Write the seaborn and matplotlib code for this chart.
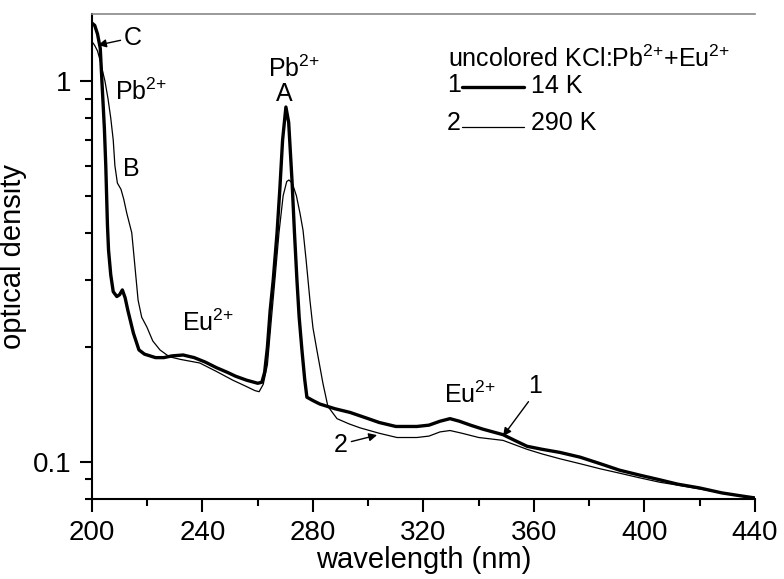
import numpy as np
import pandas as pd
import matplotlib
matplotlib.use("Agg")
import matplotlib.pyplot as plt
import matplotlib.ticker as mticker
from matplotlib.lines import Line2D
import seaborn as sns

# ---- data ----
wl_14K = [200, 201, 202, 203, 203.6, 204.5, 205, 205.6, 206, 206.8, 207.7, 209, 210, 211,
          212, 213, 215, 217, 219, 221, 223, 226, 229, 233, 237, 241, 245, 249, 252, 256,
          260, 261.5, 262.5, 263.5, 264.5, 265.6, 267, 268, 269, 270.2, 271.2, 272.4,
          273.3, 274.2, 275, 276, 277, 277.8, 280, 282.5, 288, 293.4, 300, 304, 310,
          317.6, 322, 326, 329.6, 333, 337, 341.5, 348.8, 353, 357.5, 363, 369.4, 376.7,
          384, 391, 398, 405.6, 412, 420, 428, 435, 440]
od_14K = [1.42, 1.40, 1.33, 1.22, 1.0, 0.75, 0.6, 0.42, 0.36, 0.31, 0.28, 0.272, 0.275, 0.283,
          0.27, 0.25, 0.218, 0.197, 0.192, 0.19, 0.188, 0.188, 0.19, 0.191, 0.188, 0.183,
          0.177, 0.172, 0.168, 0.164, 0.161, 0.162, 0.172, 0.2, 0.25, 0.3, 0.4, 0.52, 0.7,
          0.855, 0.78, 0.55, 0.4, 0.3, 0.24, 0.197, 0.165, 0.148, 0.145, 0.142, 0.138,
          0.135, 0.13, 0.127, 0.124, 0.124, 0.125, 0.128, 0.130, 0.128, 0.125, 0.122,
          0.118, 0.114, 0.110, 0.108, 0.106, 0.103, 0.099, 0.0952, 0.0925, 0.0898,
          0.0875, 0.0855, 0.083, 0.0815, 0.0805]

wl_290K = [200, 201, 202, 203, 204, 204.7, 205.8, 206.8, 207.7, 208.3, 209.2, 210.5, 211.5,
           212.6, 214.4, 215, 216.7, 218, 219.9, 222, 224.6, 228, 232, 239, 245, 251, 255,
           259, 260.5, 262, 263.5, 265, 266.2, 267.7, 269.2, 270.5, 271.3, 272.5, 274,
           275.3, 276.4, 277.5, 278.9, 280, 281.4, 283.6, 285.4, 288.7, 293, 297, 304,
           310.4, 317.6, 322, 326, 329.6, 334, 340, 348.8, 357.5, 363, 369.4, 376.7, 384,
           391, 398, 405.6, 412, 420, 428, 435, 440]
od_290K = [1.27, 1.24, 1.20, 1.13, 1.05, 1.0, 0.9, 0.8, 0.7, 0.6, 0.54, 0.52, 0.49,
           0.45, 0.4, 0.36, 0.266, 0.24, 0.226, 0.208, 0.197, 0.189, 0.186, 0.182, 0.173,
           0.164, 0.159, 0.154, 0.153, 0.16, 0.18, 0.24, 0.30, 0.4, 0.5, 0.545, 0.55, 0.54,
           0.5, 0.45, 0.406, 0.34, 0.266, 0.225, 0.197, 0.161, 0.14, 0.13, 0.126, 0.123,
           0.119, 0.116, 0.116, 0.117, 0.12, 0.121, 0.119, 0.116, 0.114, 0.108, 0.105,
           0.102, 0.099, 0.096, 0.0935, 0.091, 0.0885, 0.087, 0.085, 0.083, 0.0815, 0.0805]

x_ticks = [200, 240, 280, 320, 360, 400, 440]
y_ticks = [0.1, 1]
y_tick_labels = ["0.1", "1"]

# ---- style ----
sns.set_style("ticks")
plt.rcParams["font.family"] = ["Liberation Sans", "DejaVu Sans"]
plt.rcParams["mathtext.default"] = "regular"
plt.rcParams["mathtext.fontset"] = "custom"
plt.rcParams["mathtext.rm"] = "Liberation Sans"
for k in ["text.color", "axes.labelcolor", "xtick.color", "ytick.color"]:
    plt.rcParams[k] = "black"

fig = plt.figure(figsize=(7.84, 5.79), dpi=100)
ax = fig.add_axes([0.1173, 0.1382, 0.9630 - 0.1173, 0.9758 - 0.1382])

df1 = pd.DataFrame({"wl": wl_14K, "od": od_14K})
df2 = pd.DataFrame({"wl": wl_290K, "od": od_290K})
sns.lineplot(data=df2, x="wl", y="od", ax=ax, color="black", lw=0.9, sort=False, estimator=None)
sns.lineplot(data=df1, x="wl", y="od", ax=ax, color="black", lw=2.4, sort=False, estimator=None)

ax.set_yscale("log")
ax.set_xlim(200, 440)
ax.set_ylim(0.08, 1.5)

ax.set_xticks(x_ticks)
ax.xaxis.set_minor_locator(mticker.MultipleLocator(20))
ax.set_yticks(y_ticks)
ax.set_yticklabels(y_tick_labels)
ax.yaxis.set_minor_locator(mticker.LogLocator(base=10, subs=np.arange(2, 10)))
ax.yaxis.set_minor_formatter(mticker.NullFormatter())

ax.tick_params(axis="both", which="major", direction="out", length=9, width=1.5,
               labelsize=20, colors="black", pad=6)
ax.tick_params(axis="both", which="minor", direction="out", length=5, width=1.5)

for s in ["left", "bottom"]:
    ax.spines[s].set_linewidth(1.5)
    ax.spines[s].set_color("black")
ax.spines["right"].set_visible(False)
ax.spines["top"].set_color("#888888")
ax.spines["top"].set_linewidth(1.2)

ax.set_xlabel("wavelength (nm)", fontsize=21, labelpad=0)
ax.set_ylabel("optical density", fontsize=21)
ax.yaxis.set_label_coords(-0.098, 0.5)

# ---- annotations ----
fs = 18
sup = "$^{2{+}}$"
ap = dict(arrowstyle="-|>", color="black", lw=1.0, mutation_scale=12,
          shrinkA=0, shrinkB=0)
ax.annotate("C", xy=(202.2, 1.243), xytext=(214.8, 1.30), fontsize=fs,
            ha="center", va="center", arrowprops=ap)
ax.text(217.8, 0.94, "Pb" + sup, fontsize=fs, ha="center", va="center")
ax.text(214.1, 0.588, "B", fontsize=fs, ha="center", va="center")
ax.text(242.0, 0.232, "Eu" + sup, fontsize=fs, ha="center", va="center")
ax.text(273.0, 1.075, "Pb" + sup, fontsize=fs, ha="center", va="center")
ax.text(269.5, 0.924, "A", fontsize=fs, ha="center", va="center")
ax.text(337.0, 0.150, "Eu" + sup, fontsize=fs, ha="center", va="center")
ax.annotate("1", xy=(348.8, 0.117), xytext=(360.4, 0.158), fontsize=fs,
            ha="center", va="center",
            arrowprops=dict(ap, relpos=(0.2, 0.0)))
ax.annotate("2", xy=(303.2, 0.1177), xytext=(290.2, 0.111), fontsize=fs,
            ha="center", va="center",
            arrowprops=dict(ap, relpos=(1.0, 0.6)))

# ---- legend-like block ----
ax.text(328.9, 1.09, "uncolored KCl:Pb" + sup + "+Eu" + sup, fontsize=fs, ha="left",
        va="baseline")
trans = ax.get_xaxis_transform()
def fy(py):
    return 1 - (py - 14) / (499 - 14)
ax.text(328.6, fy(85), "1", fontsize=fs, ha="left", va="center", transform=trans)
ax.add_line(Line2D([334.0, 356.3], [fy(87), fy(87)], color="black", lw=2.4,
                   transform=trans))
ax.text(358.9, fy(86), "14 K", fontsize=fs, ha="left", va="center", transform=trans)
ax.text(328.6, fy(123), "2", fontsize=fs, ha="left", va="center", transform=trans)
ax.add_line(Line2D([334.0, 356.3], [fy(127), fy(127)], color="black", lw=0.9,
                   transform=trans))
ax.text(358.9, fy(123), "290 K", fontsize=fs, ha="left", va="center", transform=trans)

fig.savefig("out.png", dpi=100)
